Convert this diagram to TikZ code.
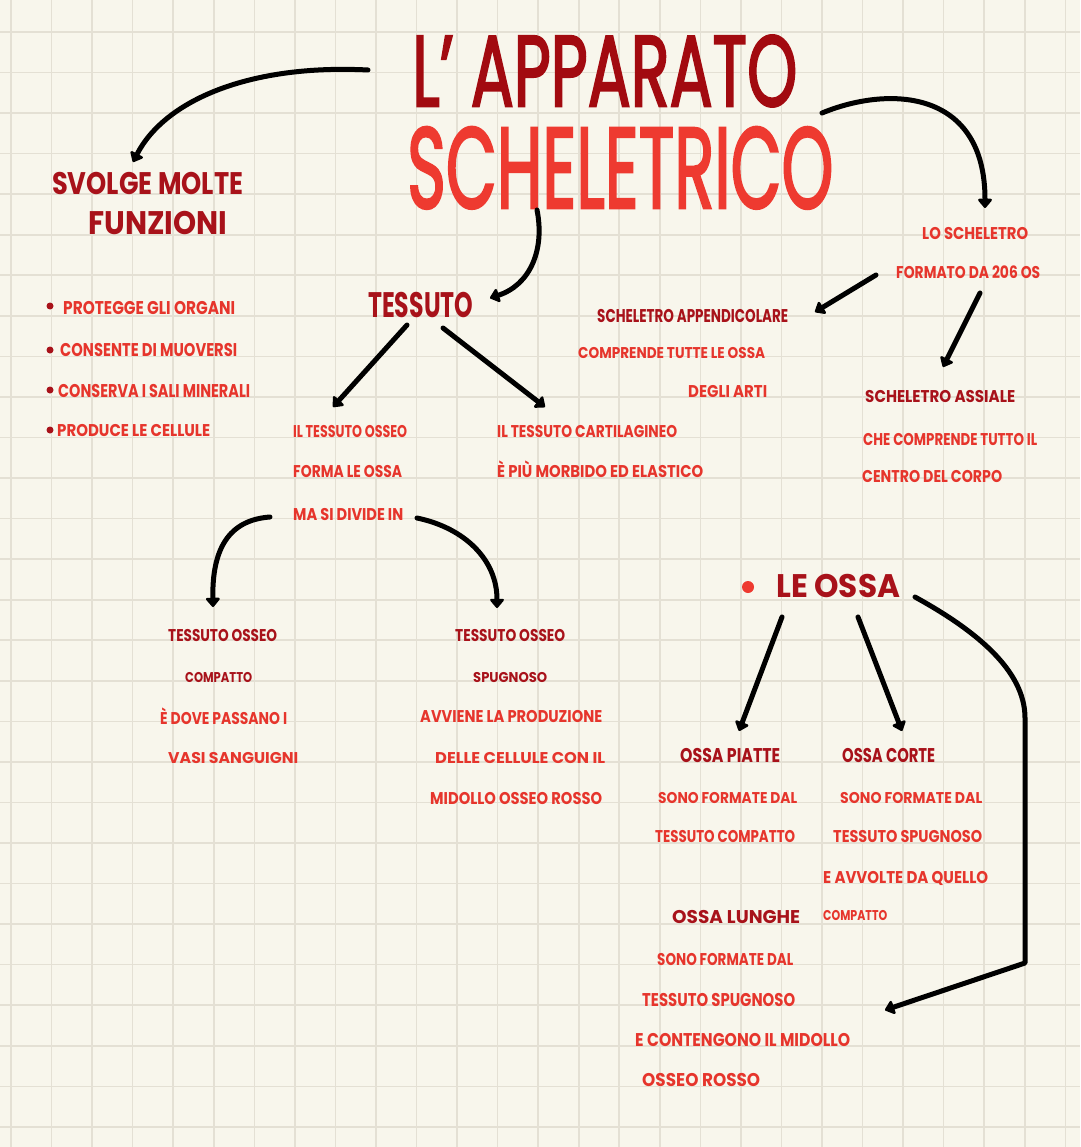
\documentclass[tikz,border=0pt]{standalone}
\usepackage{fontspec}
\usepackage{graphicx}
\setmainfont{Poppins}
\newfontfamily\titlefont{Poppins}[FakeBold=2.5]
\usetikzlibrary{arrows.meta}
\definecolor{paper}{HTML}{F8F6EC}
\definecolor{gridc}{HTML}{E4E0D4}
\definecolor{titlered}{HTML}{A20A10}
\definecolor{brightred}{HTML}{EE3A30}
\definecolor{darkred}{HTML}{A8121A}
\definecolor{textred}{HTML}{E6352C}
\newcommand\fitt[3]{\resizebox{#1pt}{#2pt}{\raisebox{0pt}[\fontcharht\font`\T][0pt]{#3}}}
\tikzset{
  gridline/.style={draw=gridc, line width=1.6pt},
  txt/.style={inner sep=0pt, anchor=base west, font=\bfseries},
  title1/.style={txt, text=titlered, font=\titlefont},
  title2/.style={txt, text=brightred, font=\titlefont},
  head/.style={txt, text=darkred},
  sub/.style={txt, text=darkred},
  sm/.style={txt, text=textred},
  dot/.style={fill=darkred, draw=none},
  arr/.style={draw=black, line width=5pt, line cap=round, line join=round,
    -{Triangle[length=10pt,width=16pt,round]}},
}
\begin{document}
\begin{tikzpicture}[x=1pt,y=-1pt]
\fill[paper] (0,0) rectangle (1080,1147);
\useasboundingbox (0,0) rectangle (1080,1147);
\foreach \i in {0,...,26} \draw[gridline] ({11+40.55*\i},0) -- ({11+40.55*\i},1147);
\foreach \j in {0,...,27} \draw[gridline] (0,{32+40.55*\j}) -- (1080,{32+40.55*\j});

% titles
\node[title1] (t1) at (412,106) {\fitt{385}{70}{L’ APPARATO}};
\node[title2] (t2) at (407,208) {\fitt{426}{80}{SCHELETRICO}};

% left column
\node[head] (svolge) at (52,195) {\fitt{191}{22}{SVOLGE MOLTE}};
\node[head] (funz) at (88,235) {\fitt{139}{23}{FUNZIONI}};
\fill[dot] (50,306) circle (3.5);
\fill[dot] (50,350) circle (3.5);
\fill[dot] (50,390) circle (3.5);
\fill[dot] (50,430) circle (3.5);
\node[sm] (p1) at (63,314) {\fitt{172}{13}{PROTEGGE GLI ORGANI}};
\node[sm] (p2) at (60,356) {\fitt{177}{13}{CONSENTE DI MUOVERSI}};
\node[sm] (p3) at (58,397) {\fitt{192}{13}{CONSERVA I SALI MINERALI}};
\node[sm] (p4) at (57,436) {\fitt{153}{12}{PRODUCE LE CELLULE}};

% tessuto
\node[head] (tess) at (368,317) {\fitt{105}{25}{TESSUTO}};
\node[sm] (o1) at (293,437) {\fitt{114}{12}{IL TESSUTO OSSEO}};
\node[sm] (o2) at (293,477) {\fitt{109}{12}{FORMA LE OSSA}};
\node[sm] (o3) at (293,520) {\fitt{110}{12}{MA SI DIVIDE IN}};
\node[sm] (c1) at (497,437) {\fitt{180}{12}{IL TESSUTO CARTILAGINEO}};
\node[sm] (c2) at (497,477) {\fitt{206}{12}{È PIÙ MORBIDO ED ELASTICO}};

\node[sub] (tc1) at (168,641) {\fitt{109}{12}{TESSUTO OSSEO}};
\node[sub] (tc2) at (185,682) {\fitt{67}{10}{COMPATTO}};
\node[sm] (tc3) at (160,724) {\fitt{127}{12}{È DOVE PASSANO I}};
\node[sm] (tc4) at (168,763) {\fitt{130}{11}{VASI SANGUIGNI}};
\node[sub] (ts1) at (455,641) {\fitt{110}{12}{TESSUTO OSSEO}};
\node[sub] (ts2) at (473,682) {\fitt{74}{10}{SPUGNOSO}};
\node[sm] (ts3) at (420,722) {\fitt{182}{12}{AVVIENE LA PRODUZIONE}};
\node[sm] (ts4) at (435,763) {\fitt{170}{11}{DELLE CELLULE CON IL}};
\node[sm] (ts5) at (430,804) {\fitt{172}{12}{MIDOLLO OSSEO ROSSO}};

% scheletro
\node[sm] (ls1) at (922,240) {\fitt{106}{12}{LO SCHELETRO}};
\node[sm] (ls2) at (896,278) {\fitt{144}{12}{FORMATO DA 206 OS}};
\node[sub] (sa1) at (597,322) {\fitt{191}{13}{SCHELETRO APPENDICOLARE}};
\node[sm] (sa2) at (578,358) {\fitt{187}{11}{COMPRENDE TUTTE LE OSSA}};
\node[sm] (sa3) at (688,397) {\fitt{79}{12}{DEGLI ARTI}};
\node[sub] (sx1) at (865,402) {\fitt{150}{12}{SCHELETRO ASSIALE}};
\node[sm] (sx2) at (863,445) {\fitt{174}{12}{CHE COMPRENDE TUTTO IL}};
\node[sm] (sx3) at (862,482) {\fitt{140}{12}{CENTRO DEL CORPO}};

% le ossa
\fill[brightred] (748,587) circle (6);
\node[head] (ossa) at (776,597) {\fitt{124}{23}{LE OSSA}};
\node[sub] (op1) at (680,762) {\fitt{100}{14}{OSSA PIATTE}};
\node[sm] (op2) at (658,803) {\fitt{139}{11}{SONO FORMATE DAL}};
\node[sm] (op3) at (655,842) {\fitt{140}{12}{TESSUTO COMPATTO}};
\node[sub] (oc1) at (842,762) {\fitt{93}{14}{OSSA CORTE}};
\node[sm] (oc2) at (840,803) {\fitt{142}{11}{SONO FORMATE DAL}};
\node[sm] (oc3) at (833,842) {\fitt{149}{12}{TESSUTO SPUGNOSO}};
\node[sm] (oc4) at (823,883) {\fitt{165}{12}{E AVVOLTE DA QUELLO}};
\node[sm] (oc5) at (823,920) {\fitt{64}{10}{COMPATTO}};
\node[sub] (ol1) at (672,923) {\fitt{128}{13}{OSSA LUNGHE}};
\node[sm] (ol2) at (657,965) {\fitt{136}{12}{SONO FORMATE DAL}};
\node[sm] (ol3) at (642,1006) {\fitt{153}{13}{TESSUTO SPUGNOSO}};
\node[sm] (ol4) at (635,1046) {\fitt{215}{13}{E CONTENGONO IL MIDOLLO}};
\node[sm] (ol5) at (642,1086) {\fitt{118}{13}{OSSEO ROSSO}};

% arrow coordinates
\coordinate (a1s) at (368,70);   \coordinate (a1e) at (133,162);
\coordinate (a2s) at (822,113);  \coordinate (a2e) at (985,208);
\coordinate (a3s) at (537,210);  \coordinate (a3e) at (490,298);
\coordinate (a4s) at (407,325);  \coordinate (a4e) at (333,407);
\coordinate (a5s) at (443,328);  \coordinate (a5e) at (545,407);
\coordinate (a6s) at (270,517);  \coordinate (a6e) at (213,607);
\coordinate (a7s) at (417,518);  \coordinate (a7e) at (497,608);
\coordinate (a8s) at (876,275);  \coordinate (a8e) at (815,312);
\coordinate (a9s) at (980,293);  \coordinate (a9e) at (943,367);
\coordinate (a10s) at (782,617); \coordinate (a10e) at (739,731);
\coordinate (a11s) at (858,617); \coordinate (a11e) at (902,731);
\coordinate (a12s) at (915,597); \coordinate (a12b) at (1025,718);
\coordinate (a12c) at (1025,963); \coordinate (a12e) at (885,1010);

\draw[arr] (a1s) .. controls (250,64) and (165,100) .. (a1e);
\draw[arr] (a2s) .. controls (890,85) and (985,90) .. (a2e);
\draw[arr] (a3s) .. controls (545,250) and (530,285) .. (a3e);
\draw[arr] (a4s) -- (a4e);
\draw[arr] (a5s) -- (a5e);
\draw[arr] (a6s) .. controls (228,520) and (212,550) .. (a6e);
\draw[arr] (a7s) .. controls (465,528) and (497,560) .. (a7e);
\draw[arr] (a8s) -- (a8e);
\draw[arr] (a9s) -- (a9e);
\draw[arr] (a10s) -- (a10e);
\draw[arr] (a11s) -- (a11e);
\draw[arr] (a12s) .. controls (975,630) and (1025,670) .. (a12b) -- (a12c) -- (a12e);
\end{tikzpicture}
\end{document}
